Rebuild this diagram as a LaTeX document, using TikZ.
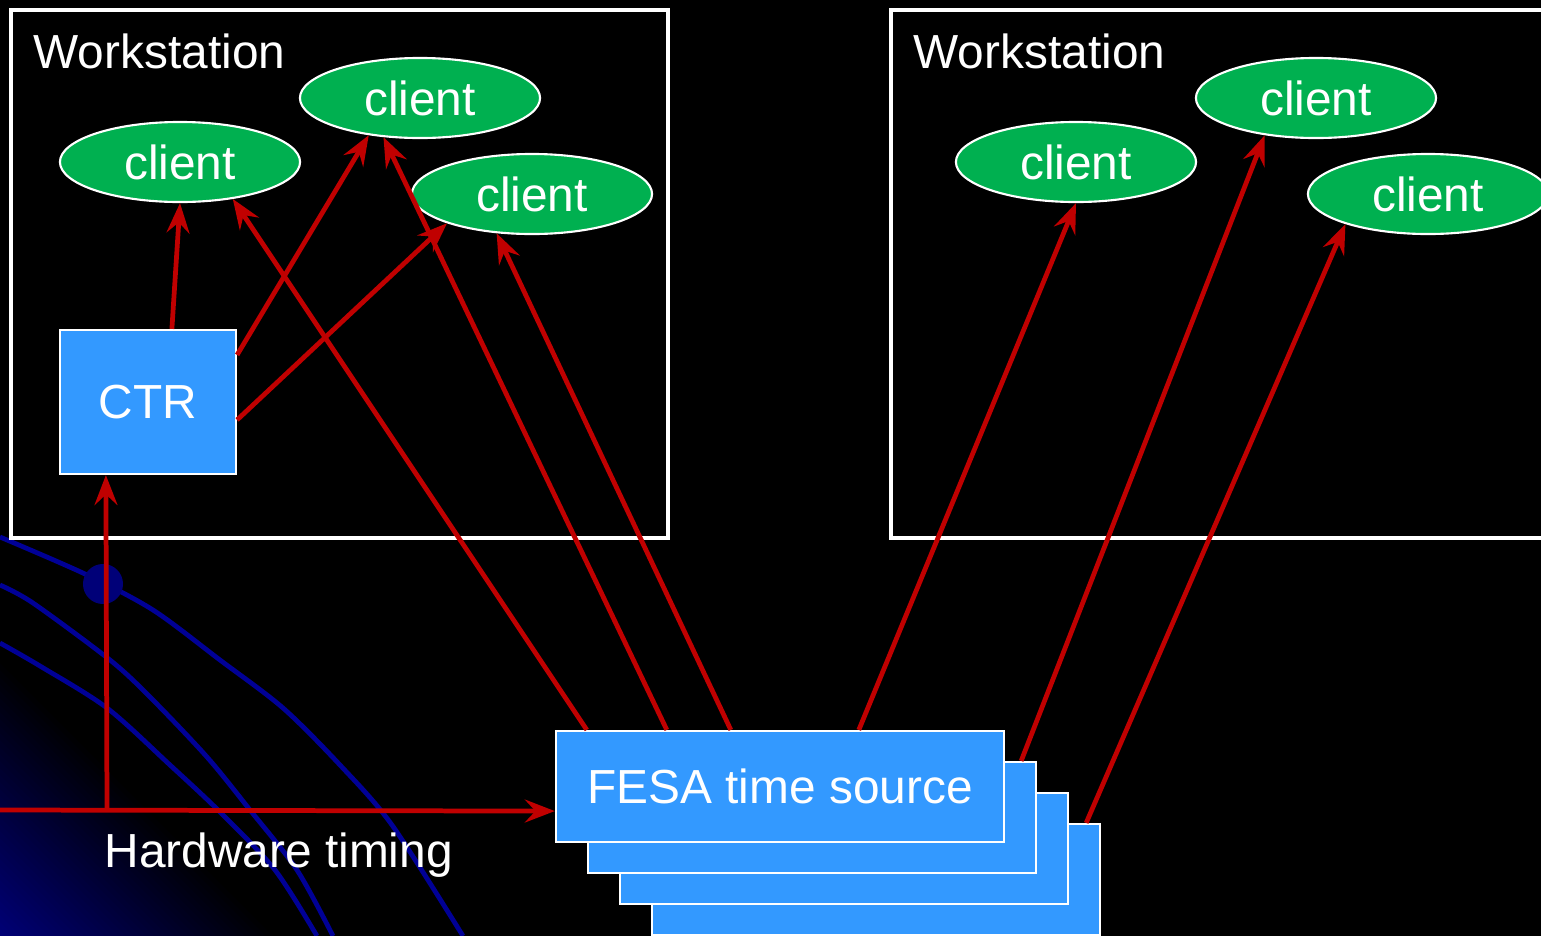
\documentclass[tikz,border=0pt]{standalone}
\usepackage{fontspec}
\setmainfont{Liberation Sans}
\usetikzlibrary{shapes.geometric,arrows.meta,calc}

\definecolor{linkred}{RGB}{192,0,0}
\definecolor{clientgreen}{RGB}{0,176,80}
\definecolor{boxblue}{RGB}{51,153,255}
\definecolor{swooshblue}{RGB}{0,0,150}
\definecolor{deepblue}{RGB}{0,0,120}

\newcommand{\slidefont}{\fontsize{13.6}{16}\selectfont}

\begin{document}
\begin{tikzpicture}[x=0.01cm,y=-0.01cm,
  client/.style={ellipse,draw=white,line width=0.6pt,fill=clientgreen,text=white,
    minimum width=2.4cm,minimum height=0.8cm,inner sep=0pt,font=\slidefont},
  bluebox/.style={rectangle,draw=white,line width=0.6pt,fill=boxblue,text=white,
    inner sep=0pt,font=\slidefont},
  fesabox/.style={bluebox,minimum width=4.48cm,minimum height=1.11cm},
  wsbox/.style={draw=white,line width=0.9pt},
  slidetext/.style={text=white,font=\slidefont,anchor=base west,inner sep=0pt},
  link/.style={draw=linkred,line width=1.35pt,-{Stealth[length=8.5pt,width=6.5pt,inset=3pt]}},
  swoosh/.style={draw=swooshblue,line width=1.35pt}]

  % background
  \useasboundingbox (0,0) rectangle (1541,936);
  \clip (0,0) rectangle (1541,936);
  \fill[black] (0,0) rectangle (1541,936);
  \foreach \d [evaluate=\d as \p using {100-\d/2.8}] in {280,273,...,7}
    \fill[deepblue!\p!black] (0,936) -- (0,936-\d) -- (\d,936) -- cycle;
  \draw[swoosh] plot[smooth] coordinates {(0,537) (85,574) (153,610) (220,660)
    (283,708) (340,765) (392,825) (463,936)};
  \draw[swoosh] plot[smooth] coordinates {(0,585) (33,603) (110,660) (150,697)
    (207,757) (250,810) (297,870) (333,936)};
  \draw[swoosh] plot[smooth] coordinates {(0,643) (40,666) (107,708) (170,765)
    (220,812) (275,870) (317,936)};
  \fill[deepblue] (103,584) circle (2mm);

  % workstations
  \draw[wsbox] (11,10) rectangle (668,538);
  \draw[wsbox] (891,10) rectangle (1560,538);
  \node[slidetext] (ws1label) at (33,68) {Workstation};
  \node[slidetext] (ws2label) at (913,68) {Workstation};

  \node[client] (c1) at (180,162) {client};
  \node[client] (c2) at (420,98) {client};
  \node[client] (c3) at (532,194) {client};
  \node[client] (c4) at (1076,162) {client};
  \node[client] (c5) at (1316,98) {client};
  \node[client] (c6) at (1428,194) {client};

  \node[bluebox,minimum width=1.76cm,minimum height=1.44cm] (ctr) at (148,402) {CTR};

  % stacked time sources, back to front
  \node[fesabox] (fesa4) at (876,879.5) {};
  \node[fesabox] (fesa3) at (844,848.5) {};
  \node[fesabox] (fesa2) at (812,817.5) {};
  \node[fesabox] (fesa) at (780,786.5) {FESA time source};

  % hardware timing
  \coordinate (hwin) at (0,810);
  \coordinate (hwtap) at (107,810);
  \draw[link] (hwin) -- ($(fesa.south west)+(0,-32)$);
  \draw[link] (hwtap) -- ($(ctr.south west)+(47,0)$);
  \node[slidetext] (hwlabel) at (104,867) {Hardware timing};

  % CTR to local clients
  \draw[link] ($(ctr.north west)+(113,0)$) -- (c1.south);
  \draw[link] ($(ctr.north east)+(0,26)$) -- (c2.-144);
  \draw[link] ($(ctr.north east)+(0,91)$) -- (c3.-161);

  % time source to all clients
  \draw[link] ($(fesa.north west)+(32,0)$) -- (c1.-35);
  \draw[link] ($(fesa.north west)+(112,0)$) -- (c2.-133);
  \draw[link] ($(fesa.north west)+(176,0)$) -- (c3.-132);
  \draw[link] ($(fesa.north west)+(304,0)$) -- (c4.south);
  \draw[link] ($(fesa2.north east)+(-16,0)$) -- (c5.-144);
  \draw[link] ($(fesa4.north east)+(-15,0)$) -- (c6.-160);
\end{tikzpicture}
\end{document}
